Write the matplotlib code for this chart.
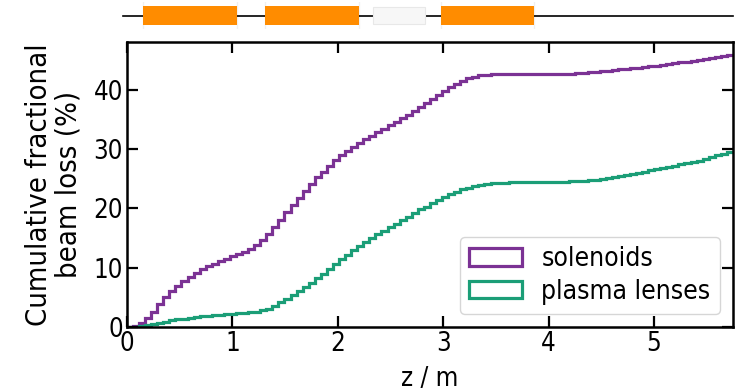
import numpy as np
import matplotlib.pyplot as plt
from matplotlib.patches import Patch

# cumulative fractional beam loss (%) per z bin, 100 bins over 0 - 5.75 m
z_max = 5.75
solenoids = [
    0.0, 0.1, 0.7, 1.6, 2.6, 3.8, 5.0, 6.0, 6.9, 7.8,
    8.5, 9.1, 9.7, 10.2, 10.7, 11.1, 11.5, 11.9, 12.3, 12.7,
    13.2, 13.8, 14.6, 15.6, 16.8, 18.0, 19.3, 20.6, 21.8, 23.0,
    24.1, 25.2, 26.2, 27.2, 28.1, 28.9, 29.6, 30.3, 31.0, 31.6,
    32.2, 32.8, 33.4, 34.0, 34.6, 35.2, 35.8, 36.4, 37.0, 37.7,
    38.4, 39.1, 39.8, 40.5, 41.0, 41.5, 41.9, 42.2, 42.4, 42.5,
    42.6, 42.6, 42.6, 42.6, 42.6, 42.6, 42.7, 42.7, 42.7, 42.7,
    42.7, 42.7, 42.7, 42.7, 42.8, 42.8, 42.9, 43.0, 43.1, 43.2,
    43.3, 43.4, 43.5, 43.6, 43.7, 43.8, 43.9, 44.0, 44.1, 44.3,
    44.4, 44.6, 44.7, 44.9, 45.0, 45.2, 45.4, 45.5, 45.7, 45.9,
]
plasma_lenses = [
    0.0, 0.0, 0.1, 0.3, 0.5, 0.7, 0.9, 1.1, 1.3, 1.4,
    1.6, 1.7, 1.8, 1.9, 2.0, 2.1, 2.2, 2.2, 2.3, 2.4,
    2.5, 2.6, 2.8, 3.1, 3.6, 4.2, 4.8, 5.4, 6.0, 6.7,
    7.4, 8.2, 9.0, 9.8, 10.6, 11.4, 12.1, 12.9, 13.6, 14.3,
    15.0, 15.6, 16.2, 16.8, 17.4, 18.0, 18.6, 19.2, 19.8, 20.3,
    20.9, 21.4, 21.9, 22.4, 22.8, 23.2, 23.5, 23.8, 24.0, 24.1,
    24.2, 24.3, 24.3, 24.4, 24.4, 24.4, 24.4, 24.5, 24.5, 24.5,
    24.5, 24.5, 24.5, 24.6, 24.6, 24.6, 24.7, 24.8, 25.0, 25.1,
    25.3, 25.5, 25.6, 25.8, 26.0, 26.2, 26.4, 26.6, 26.8, 27.0,
    27.2, 27.4, 27.6, 27.8, 28.0, 28.3, 28.6, 28.9, 29.2, 29.5,
]

# lattice elements along the beamline (start, end) in m
lens_start = [0.15, 1.31, 2.98]
lens_end = [1.04, 2.20, 3.86]
gap_start = [2.33]
gap_end = [2.83]

c_sol = '#7b3294'
c_pl = '#1b9e77'

plt.rcParams['font.stretch'] = 'condensed'

edges = np.linspace(0, z_max, len(solenoids) + 1)

fig = plt.figure(figsize=(7.51, 3.9), dpi=100)
ax = fig.add_axes([0.169, 0.1615, 0.807, 0.7305])
top = fig.add_axes([0.169, 0.925, 0.807, 0.07])

ax.stairs(solenoids, edges, color=c_sol, lw=2.3, baseline=None)
ax.stairs(plasma_lenses, edges, color=c_pl, lw=2.3, baseline=None)

ax.set_xlim(0, z_max)
ax.set_ylim(0, 48)
ax.set_yticks([0, 10, 20, 30, 40])
ax.tick_params(direction='in', length=8, width=1.6, labelsize=18.5,
               top=True, right=True, pad=3)
for s in ax.spines.values():
    s.set_linewidth(1.8)
ax.set_xlabel('z / m', fontsize=18.5, labelpad=6)
ax.set_ylabel('Cumulative fractional\nbeam loss (%)', fontsize=21, labelpad=8,
              linespacing=1.05)
handles = [Patch(facecolor='none', edgecolor=c_sol, lw=2.3, label='solenoids'),
           Patch(facecolor='none', edgecolor=c_pl, lw=2.3, label='plasma lenses')]
ax.legend(handles=handles, loc='lower right', fontsize=19, handlelength=2.0,
          handleheight=0.65, borderpad=0.35, labelspacing=0.25, handletextpad=0.75,
          borderaxespad=0.5, framealpha=0.8)

# beamline sketch
top.plot([-0.04, z_max], [0, 0], color='black', lw=1.2, zorder=1, clip_on=False)
for a, b in zip(lens_start, lens_end):
    top.axvspan(a, b, ymin=0.15, ymax=0.85, color='darkorange', zorder=2, lw=0)
    top.axvline(a, color='#f0f0f0', lw=1, zorder=0)
    top.axvline(b, color='#f0f0f0', lw=1, zorder=0)
for a, b in zip(gap_start, gap_end):
    top.axvspan(a, b, ymin=0.2, ymax=0.8, facecolor='#f7f7f7', edgecolor='#e8e8e8',
                lw=0.8, zorder=2)
top.set_xlim(0, z_max)
top.set_ylim(-1, 1)
top.axis('off')

fig.savefig('out.png', dpi=100)
